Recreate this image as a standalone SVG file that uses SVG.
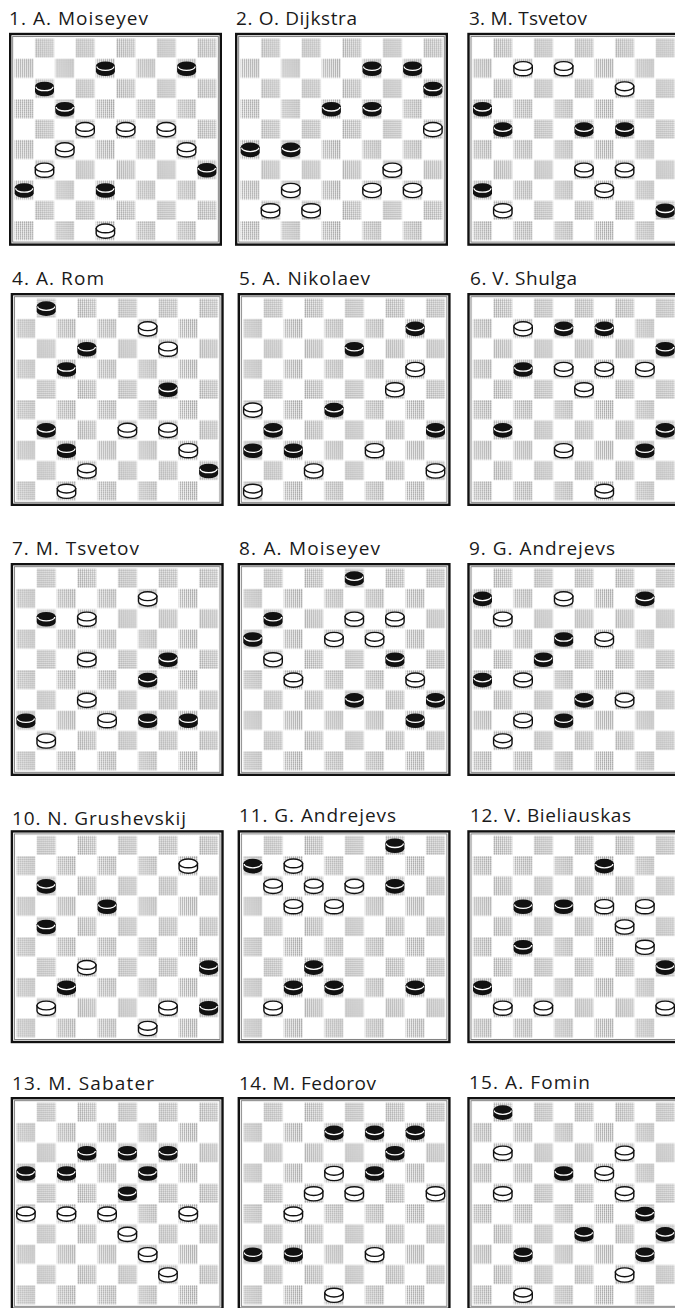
<svg xmlns="http://www.w3.org/2000/svg" xmlns:xlink="http://www.w3.org/1999/xlink" width="675" height="1308" viewBox="0 0 675 1308">
<style>
.t{font-family:"Open Sans","Liberation Sans",sans-serif;font-size:19px;fill:#1a1a1a}
</style>
<defs>
<pattern id="hatch" patternUnits="userSpaceOnUse" width="2" height="2">
<rect width="2" height="2" fill="#f0f0f0"/><rect width="1" height="1" fill="#a0a0a0"/><rect y="1" width="1" height="1" fill="#b8b8b8"/><rect x="1" y="1" width="1" height="1" fill="#fff"/>
</pattern>
<pattern id="checker" patternUnits="userSpaceOnUse" x="5" y="5" width="40.6" height="40.6">
<rect x="20.9" y="0.6" width="19.1" height="19.1" fill="url(#hatch)"/>
<rect x="0.6" y="20.9" width="19.1" height="19.1" fill="url(#hatch)"/>
</pattern>
<g id="bd">
<rect x="5" y="5" width="203" height="203" fill="#fff"/>
<rect x="5" y="5" width="203" height="203" fill="url(#checker)"/>
<rect x="3.7" y="3.7" width="205.6" height="205.6" fill="none" stroke="#777" stroke-width="0.9"/>
<rect x="1.2" y="1.2" width="210.6" height="210.6" fill="none" stroke="#111" stroke-width="2.4"/>
</g>
<g id="b">
<path d="M-9.5,-2.8 V2.6 A9.5,4.6 0 0 0 9.5,2.6 V-2.8 Z" fill="#111"/>
<ellipse cy="-2.8" rx="9.5" ry="4.6" fill="#111"/>
<path d="M-8.6,-2.3 A8.6,3.9 0 0 0 8.6,-2.3" fill="none" stroke="#fff" stroke-width="1.3"/>
</g>
<g id="w">
<path d="M-9.2,-2.8 V2.6 A9.2,4.4 0 0 0 9.2,2.6 V-2.8 Z" fill="#fff" stroke="#111" stroke-width="1.4"/>
<ellipse cy="-2.8" rx="9.2" ry="4.4" fill="#fff" stroke="#111" stroke-width="1.4"/>
</g>
</defs>
<rect width="675" height="1308" fill="#fff"/>

<g id="problem1">
<text class="t" x="9" y="25" textLength="139">1. A. Moiseyev</text>
<g transform="translate(9,32.8)"><use href="#bd"/>
<use href="#b" x="96.4" y="36"/><use href="#b" x="177.6" y="36"/><use href="#b" x="35.5" y="56.3"/><use href="#b" x="55.8" y="76.6"/>
<use href="#w" x="76.1" y="96.9"/><use href="#w" x="116.7" y="96.9"/><use href="#w" x="157.3" y="96.9"/>
<use href="#w" x="55.8" y="117.2"/><use href="#w" x="177.6" y="117.2"/>
<use href="#w" x="35.5" y="137.5"/><use href="#b" x="197.9" y="137.5"/>
<use href="#b" x="15.2" y="157.8"/><use href="#b" x="96.4" y="157.8"/>
<use href="#w" x="96.4" y="198.4"/>
</g></g>

<g id="problem2">
<text class="t" x="236" y="25" textLength="121">2. O. Dijkstra</text>
<g transform="translate(235,32.8)"><use href="#bd"/>
<use href="#b" x="137" y="36"/><use href="#b" x="177.6" y="36"/><use href="#b" x="197.9" y="56.3"/>
<use href="#b" x="96.4" y="76.6"/><use href="#b" x="137" y="76.6"/><use href="#w" x="197.9" y="96.9"/>
<use href="#b" x="15.2" y="117.2"/><use href="#b" x="55.8" y="117.2"/><use href="#w" x="157.3" y="137.5"/>
<use href="#w" x="55.8" y="157.8"/><use href="#w" x="137" y="157.8"/><use href="#w" x="177.6" y="157.8"/>
<use href="#w" x="35.5" y="178.1"/><use href="#w" x="76.1" y="178.1"/>
</g></g>

<g id="problem3">
<text class="t" x="469" y="25" textLength="118">3. M. Tsvetov</text>
<g transform="translate(467.3,32.8)"><use href="#bd"/>
<use href="#w" x="55.8" y="36"/><use href="#w" x="96.4" y="36"/><use href="#w" x="157.3" y="56.3"/>
<use href="#b" x="15.2" y="76.6"/><use href="#b" x="35.5" y="96.9"/><use href="#b" x="116.7" y="96.9"/><use href="#b" x="157.3" y="96.9"/>
<use href="#w" x="116.7" y="137.5"/><use href="#w" x="157.3" y="137.5"/>
<use href="#b" x="15.2" y="157.8"/><use href="#w" x="137" y="157.8"/>
<use href="#w" x="35.5" y="178.1"/><use href="#b" x="197.9" y="178.1"/>
</g></g>

<g id="problem4">
<text class="t" x="12" y="285" textLength="92">4. A. Rom</text>
<g transform="translate(10.7,293)"><use href="#bd"/>
<use href="#b" x="35.5" y="15.7"/><use href="#w" x="137" y="36"/>
<use href="#b" x="76.1" y="56.3"/><use href="#w" x="157.3" y="56.3"/>
<use href="#b" x="55.8" y="76.6"/><use href="#b" x="157.3" y="96.9"/>
<use href="#b" x="35.5" y="137.5"/><use href="#w" x="116.7" y="137.5"/><use href="#w" x="157.3" y="137.5"/>
<use href="#b" x="55.8" y="157.8"/><use href="#w" x="177.6" y="157.8"/>
<use href="#w" x="76.1" y="178.1"/><use href="#b" x="197.9" y="178.1"/>
<use href="#w" x="55.8" y="198.4"/>
</g></g>

<g id="problem5">
<text class="t" x="239" y="285" textLength="131">5. A. Nikolaev</text>
<g transform="translate(237.6,293)"><use href="#bd"/>
<use href="#b" x="177.6" y="36"/><use href="#b" x="116.7" y="56.3"/><use href="#w" x="177.6" y="76.6"/>
<use href="#w" x="157.3" y="96.9"/><use href="#w" x="15.2" y="117.2"/><use href="#b" x="96.4" y="117.2"/>
<use href="#b" x="35.5" y="137.5"/><use href="#b" x="197.9" y="137.5"/>
<use href="#b" x="15.2" y="157.8"/><use href="#b" x="55.8" y="157.8"/><use href="#w" x="137" y="157.8"/>
<use href="#w" x="76.1" y="178.1"/><use href="#w" x="197.9" y="178.1"/>
<use href="#w" x="15.2" y="198.4"/>
</g></g>

<g id="problem6">
<text class="t" x="470" y="285" textLength="107">6. V. Shulga</text>
<g transform="translate(467.3,293)"><use href="#bd"/>
<use href="#w" x="55.8" y="36"/><use href="#b" x="96.4" y="36"/><use href="#b" x="137" y="36"/>
<use href="#b" x="197.9" y="56.3"/>
<use href="#b" x="55.8" y="76.6"/><use href="#w" x="96.4" y="76.6"/><use href="#w" x="137" y="76.6"/><use href="#w" x="177.6" y="76.6"/>
<use href="#w" x="116.7" y="96.9"/>
<use href="#b" x="35.5" y="137.5"/><use href="#b" x="197.9" y="137.5"/>
<use href="#w" x="96.4" y="157.8"/><use href="#b" x="177.6" y="157.8"/>
<use href="#w" x="137" y="198.4"/>
</g></g>

<g id="problem7">
<text class="t" x="12" y="555" textLength="127">7. M. Tsvetov</text>
<g transform="translate(10.7,563)"><use href="#bd"/>
<use href="#w" x="137" y="36"/><use href="#b" x="35.5" y="56.3"/><use href="#w" x="76.1" y="56.3"/>
<use href="#w" x="76.1" y="96.9"/><use href="#b" x="157.3" y="96.9"/><use href="#b" x="137" y="117.2"/>
<use href="#w" x="76.1" y="137.5"/>
<use href="#b" x="15.2" y="157.8"/><use href="#w" x="96.4" y="157.8"/><use href="#b" x="137" y="157.8"/><use href="#b" x="177.6" y="157.8"/>
<use href="#w" x="35.5" y="178.1"/>
</g></g>

<g id="problem8">
<text class="t" x="239" y="555" textLength="141">8. A. Moiseyev</text>
<g transform="translate(237.6,563)"><use href="#bd"/>
<use href="#b" x="116.7" y="15.7"/>
<use href="#b" x="35.5" y="56.3"/><use href="#w" x="116.7" y="56.3"/><use href="#w" x="157.3" y="56.3"/>
<use href="#b" x="15.2" y="76.6"/><use href="#w" x="96.4" y="76.6"/><use href="#w" x="137" y="76.6"/>
<use href="#w" x="35.5" y="96.9"/><use href="#b" x="157.3" y="96.9"/>
<use href="#w" x="55.8" y="117.2"/><use href="#w" x="177.6" y="117.2"/>
<use href="#b" x="116.7" y="137.5"/><use href="#b" x="197.9" y="137.5"/>
<use href="#b" x="177.6" y="157.8"/>
</g></g>

<g id="problem9">
<text class="t" x="469" y="555" textLength="146">9. G. Andrejevs</text>
<g transform="translate(467.3,563)"><use href="#bd"/>
<use href="#b" x="15.2" y="36"/><use href="#w" x="96.4" y="36"/><use href="#b" x="177.6" y="36"/>
<use href="#w" x="35.5" y="56.3"/>
<use href="#b" x="96.4" y="76.6"/><use href="#w" x="137" y="76.6"/>
<use href="#b" x="76.1" y="96.9"/>
<use href="#b" x="15.2" y="117.2"/><use href="#w" x="55.8" y="117.2"/>
<use href="#b" x="116.7" y="137.5"/><use href="#w" x="157.3" y="137.5"/>
<use href="#w" x="55.8" y="157.8"/><use href="#b" x="96.4" y="157.8"/>
<use href="#w" x="35.5" y="178.1"/>
</g></g>

<g id="problem10">
<text class="t" x="12" y="825" textLength="174">10. N. Grushevskij</text>
<g transform="translate(10.7,830.2)"><use href="#bd"/>
<use href="#w" x="177.6" y="36"/><use href="#b" x="35.5" y="56.3"/><use href="#b" x="96.4" y="76.6"/>
<use href="#b" x="35.5" y="96.9"/>
<use href="#w" x="76.1" y="137.5"/><use href="#b" x="197.9" y="137.5"/>
<use href="#b" x="55.8" y="157.8"/>
<use href="#w" x="35.5" y="178.1"/><use href="#w" x="157.3" y="178.1"/><use href="#b" x="197.9" y="178.1"/>
<use href="#w" x="137" y="198.4"/>
</g></g>

<g id="problem11">
<text class="t" x="239" y="822" textLength="157">11. G. Andrejevs</text>
<g transform="translate(237.6,830.2)"><use href="#bd"/>
<use href="#b" x="157.3" y="15.7"/>
<use href="#b" x="15.2" y="36"/><use href="#w" x="55.8" y="36"/>
<use href="#w" x="35.5" y="56.3"/><use href="#w" x="76.1" y="56.3"/><use href="#w" x="116.7" y="56.3"/><use href="#b" x="157.3" y="56.3"/>
<use href="#w" x="55.8" y="76.6"/><use href="#w" x="96.4" y="76.6"/>
<use href="#b" x="76.1" y="137.5"/>
<use href="#b" x="55.8" y="157.8"/><use href="#b" x="96.4" y="157.8"/><use href="#b" x="177.6" y="157.8"/>
<use href="#w" x="35.5" y="178.1"/>
</g></g>

<g id="problem12">
<text class="t" x="470" y="822" textLength="161">12. V. Bieliauskas</text>
<g transform="translate(467.3,830.2)"><use href="#bd"/>
<use href="#b" x="137" y="36"/>
<use href="#b" x="55.8" y="76.6"/><use href="#b" x="96.4" y="76.6"/><use href="#w" x="137" y="76.6"/><use href="#w" x="177.6" y="76.6"/>
<use href="#w" x="157.3" y="96.9"/>
<use href="#b" x="55.8" y="117.2"/><use href="#w" x="177.6" y="117.2"/>
<use href="#b" x="197.9" y="137.5"/>
<use href="#b" x="15.2" y="157.8"/>
<use href="#w" x="35.5" y="178.1"/><use href="#w" x="76.1" y="178.1"/><use href="#w" x="197.9" y="178.1"/>
</g></g>

<g id="problem13">
<text class="t" x="12" y="1090" textLength="142">13. M. Sabater</text>
<g transform="translate(10.7,1097)"><use href="#bd"/>
<use href="#b" x="76.1" y="56.3"/><use href="#b" x="116.7" y="56.3"/><use href="#b" x="157.3" y="56.3"/>
<use href="#b" x="15.2" y="76.6"/><use href="#b" x="55.8" y="76.6"/><use href="#b" x="137" y="76.6"/>
<use href="#b" x="116.7" y="96.9"/>
<use href="#w" x="15.2" y="117.2"/><use href="#w" x="55.8" y="117.2"/><use href="#w" x="96.4" y="117.2"/><use href="#w" x="177.6" y="117.2"/>
<use href="#w" x="116.7" y="137.5"/><use href="#w" x="137" y="157.8"/><use href="#w" x="157.3" y="178.1"/>
</g></g>

<g id="problem14">
<text class="t" x="239" y="1090" textLength="137">14. M. Fedorov</text>
<g transform="translate(237.6,1097)"><use href="#bd"/>
<use href="#b" x="96.4" y="36"/><use href="#b" x="137" y="36"/><use href="#b" x="177.6" y="36"/>
<use href="#b" x="157.3" y="56.3"/>
<use href="#w" x="96.4" y="76.6"/><use href="#b" x="137" y="76.6"/>
<use href="#w" x="76.1" y="96.9"/><use href="#w" x="116.7" y="96.9"/><use href="#w" x="197.9" y="96.9"/>
<use href="#w" x="55.8" y="117.2"/>
<use href="#b" x="15.2" y="157.8"/><use href="#b" x="55.8" y="157.8"/><use href="#w" x="137" y="157.8"/>
<use href="#w" x="96.4" y="198.4"/>
</g></g>

<g id="problem15">
<text class="t" x="469" y="1089" textLength="121">15. A. Fomin</text>
<g transform="translate(467.3,1097)"><use href="#bd"/>
<use href="#b" x="35.5" y="15.7"/>
<use href="#w" x="35.5" y="56.3"/><use href="#w" x="157.3" y="56.3"/>
<use href="#b" x="96.4" y="76.6"/><use href="#w" x="137" y="76.6"/>
<use href="#w" x="35.5" y="96.9"/><use href="#w" x="157.3" y="96.9"/>
<use href="#b" x="177.6" y="117.2"/>
<use href="#b" x="116.7" y="137.5"/><use href="#b" x="197.9" y="137.5"/>
<use href="#b" x="55.8" y="157.8"/><use href="#b" x="177.6" y="157.8"/>
<use href="#w" x="157.3" y="178.1"/>
<use href="#w" x="55.8" y="198.4"/>
</g></g>
</svg>
